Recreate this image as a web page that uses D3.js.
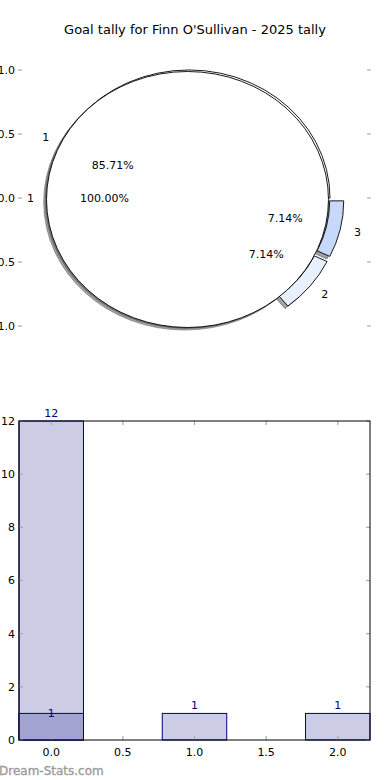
<!DOCTYPE html>
<html><head><meta charset="utf-8">
<script src="https://cdn.jsdelivr.net/npm/d3@7"></script>
<style>body{margin:0;background:#fff}svg{display:block;font-family:"DejaVu Sans",sans-serif}</style>
</head><body><div id="chart"></div>
<script>
const title = "Goal tally for Finn O'Sullivan - 2025 tally";
const outerLabels = ["1", "2", "3"];
const outerValues = [12, 1, 1];
const outerColors = ["#ffffff", "#e8f0fd", "#c6d9fa"];
const outerExplode = [0, 0.1, 0.1];
const innerLabels = ["1"];
const innerValues = [14];
const innerColors = ["#ffffff"];
const pieTicks = [1.0, 0.5, 0.0, -0.5, -1.0];

const barCats = [0, 1, 2];
const barValues = [12, 1, 1];
const barInnerCats = [0];
const barInnerValues = [1];
const barYTicks = [0, 2, 4, 6, 8, 10, 12];
const barXTicks = [0.0, 0.5, 1.0, 1.5, 2.0];

const W = 390, H = 780;
const svg = d3.select("#chart").append("svg").attr("width", W).attr("height", H);
svg.append("rect").attr("width", W).attr("height", H).attr("fill", "#fff");

svg.append("text").attr("x", 195).attr("y", 34).attr("text-anchor", "middle")
  .attr("font-size", 13).attr("fill", "#000").text(title);

// ---------- Pie ----------
const px = d3.scaleLinear().domain([-1, 1]).range([48, 330]);
const py = d3.scaleLinear().domain([-1, 1]).range([326, 70]);
const cx = px(0), cy = py(0), rx = px(1) - px(0), ry = py(0) - py(1);

const tg = svg.append("g");
pieTicks.forEach(t => {
  tg.append("line").attr("x1", 18).attr("x2", 22).attr("y1", py(t)).attr("y2", py(t)).attr("stroke", "#aaa").attr("stroke-width", 1.2);
  tg.append("line").attr("x1", 367).attr("x2", 371).attr("y1", py(t)).attr("y2", py(t)).attr("stroke", "#aaa").attr("stroke-width", 1.2);
  tg.append("text").attr("x", 15).attr("y", py(t)).attr("dy", "0.35em").attr("text-anchor", "end")
    .attr("font-size", 11).attr("fill", "#000").text(t === 0 ? "0.0" : (t < 0 ? "\u2212" : "") + Math.abs(t).toFixed(1));
});

const pieGen = d3.pie().sort(null).startAngle(Math.PI / 2).endAngle(Math.PI / 2 - 2 * Math.PI);
const outerArcs = pieGen(outerValues);
const innerArcs = pieGen(innerValues);
const outerArc = d3.arc().innerRadius(0.9).outerRadius(1.0);
const innerArc = d3.arc().innerRadius(0).outerRadius(1.0);

function shifted(d, ex) {
  const mid = (d.startAngle + d.endAngle) / 2;
  return [ex * Math.sin(mid), -ex * Math.cos(mid)];
}
const pieG = svg.append("g");
const shadowG = pieG.append("g");
const wedgeG = pieG.append("g");
const sdx = -0.02 * rx, sdy = 0.02 * ry;

function drawWedge(d, arcGen, color, ex, offX, offY) {
  const [ox, oy] = shifted(d, ex);
  const base = `translate(${cx + ox * rx + offX},${cy + oy * ry + offY}) scale(${rx},${ry})`;
  const c = d3.rgb(color);
  const sc = d3.rgb(c.r * 0.3, c.g * 0.3, c.b * 0.3);
  shadowG.append("path").attr("d", arcGen(d))
    .attr("transform", `translate(${sdx},${sdy}) ` + base)
    .attr("fill", sc).attr("fill-opacity", 0.5).attr("stroke", sc).attr("stroke-opacity", 0.5)
    .attr("vector-effect", "non-scaling-stroke");
  wedgeG.append("path").attr("d", arcGen(d)).attr("transform", base)
    .attr("fill", color).attr("stroke", "#000").attr("stroke-width", 0.9)
    .attr("vector-effect", "non-scaling-stroke");
}
outerArcs.forEach((d, i) => drawWedge(d, outerArc, outerColors[i], outerExplode[i], 0, 0));
innerArcs.forEach((d, i) => drawWedge(d, innerArc, innerColors[i], 0, -1.5, 1.5));

const total = d3.sum(outerValues), itotal = d3.sum(innerValues);
function drawLabels(arcs, labels, vals, tot, explode) {
  arcs.forEach((d, i) => {
    const mid = (d.startAngle + d.endAngle) / 2;
    const ex = explode ? explode[i] : 0;
    const sx = Math.sin(mid), sy = -Math.cos(mid);
    const lx = cx + (1.1 + ex) * sx * rx, ly = cy + (1.1 + ex) * sy * ry;
    svg.append("text").attr("x", lx).attr("y", ly).attr("dy", "0.35em")
      .attr("text-anchor", sx > 0 ? "start" : "end").attr("font-size", 11).text(labels[i]);
    const qx = cx + (0.6 + ex) * sx * rx, qy = cy + (0.6 + ex) * sy * ry;
    svg.append("text").attr("x", qx).attr("y", qy).attr("dy", "0.35em")
      .attr("text-anchor", "middle").attr("font-size", 11).text((vals[i] / tot * 100).toFixed(2) + "%");
  });
}
drawLabels(outerArcs, outerLabels, outerValues, total, outerExplode);
drawLabels(innerArcs, innerLabels, innerValues, itotal, null);

// ---------- Bars ----------
const bx = d3.scaleLinear().domain([-0.225, 2.225]).range([19, 370]);
const by = d3.scaleLinear().domain([0, 12]).range([740, 421]);
const bw = 0.45;
const bg = svg.append("g");

bg.selectAll(".b1").data(barCats).enter().append("rect")
  .attr("x", (c) => bx(c - bw / 2)).attr("width", (c) => bx(c + bw / 2) - bx(c - bw / 2))
  .attr("y", (c, i) => by(barValues[i])).attr("height", (c, i) => by(0) - by(barValues[i]))
  .attr("fill", "#ccccE5").attr("stroke", "#000080").attr("stroke-width", 1);
bg.selectAll(".b2").data(barInnerCats).enter().append("rect")
  .attr("x", (c) => bx(c - bw / 2)).attr("width", (c) => bx(c + bw / 2) - bx(c - bw / 2))
  .attr("y", (c, i) => by(barInnerValues[i])).attr("height", (c, i) => by(0) - by(barInnerValues[i]))
  .attr("fill", "#a3a3d1").attr("stroke", "#000080").attr("stroke-width", 1);

barCats.forEach((c, i) => {
  bg.append("text").attr("x", bx(c)).attr("y", by(barValues[i]) - 4).attr("text-anchor", "middle")
    .attr("font-size", 11).attr("fill", "#000080").text(barValues[i]);
});
barInnerCats.forEach((c, i) => {
  bg.append("text").attr("x", bx(c)).attr("y", by(barInnerValues[i]) + 4).attr("text-anchor", "middle")
    .attr("font-size", 11).attr("fill", "#000080").text(barInnerValues[i]);
});

barYTicks.forEach(t => {
  bg.append("line").attr("x1", 19).attr("x2", 23).attr("y1", by(t)).attr("y2", by(t)).attr("stroke", "#aaa").attr("stroke-width", 1.2);
  bg.append("line").attr("x1", 366).attr("x2", 370).attr("y1", by(t)).attr("y2", by(t)).attr("stroke", "#aaa").attr("stroke-width", 1.2);
  bg.append("text").attr("x", 15).attr("y", by(t)).attr("dy", "0.35em").attr("text-anchor", "end")
    .attr("font-size", 11).text(t);
});
barXTicks.forEach(t => {
  bg.append("line").attr("x1", bx(t)).attr("x2", bx(t)).attr("y1", 740).attr("y2", 736).attr("stroke", "#aaa").attr("stroke-width", 1.2);
  bg.append("line").attr("x1", bx(t)).attr("x2", bx(t)).attr("y1", 421).attr("y2", 425).attr("stroke", "#aaa").attr("stroke-width", 1.2);
  bg.append("text").attr("x", bx(t)).attr("y", 756).attr("text-anchor", "middle")
    .attr("font-size", 11).text(t.toFixed(1));
});
bg.append("rect").attr("x", 19).attr("y", 421).attr("width", 351).attr("height", 319)
  .attr("fill", "none").attr("stroke", "#000").attr("stroke-width", 1);

svg.append("text").attr("x", -1).attr("y", 775).attr("font-size", 12)
  .attr("fill", "#999").attr("stroke", "#999").attr("stroke-width", 0.3).text("Dream-Stats.com");
</script></body></html>
